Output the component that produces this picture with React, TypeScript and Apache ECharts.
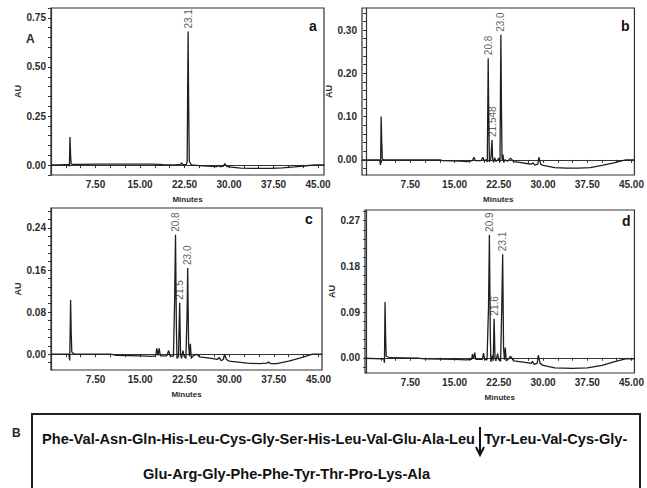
import React, { useEffect, useRef } from "react";
import * as echarts from "echarts";

// Chromatogram traces: [minutes, AU]
const traceA: number[][] = [
  [0, 0.002], [1, 0.002], [2.5, 0.003], [3.0, 0.003], [3.1, -0.006], [3.2, 0.143], [3.3, 0.05], [3.4, 0.006], [3.6, 0.004],
  [5, 0.004], [8, 0.005], [12, 0.005], [15, 0.005], [17, 0.005], [19, 0.003], [21, 0.002], [21.8, 0.004], [22.0, 0.011],
  [22.2, 0.003], [22.8, 0.004], [22.95, 0.02], [23.03, 0.4], [23.1, 0.68], [23.18, 0.35], [23.3, 0.02], [23.5, 0.008],
  [23.7, 0.002], [25, -0.002], [27, -0.006], [28.0, -0.007], [28.2, -0.001], [28.4, -0.007], [29.0, -0.006], [29.3, 0.008],
  [29.6, -0.006], [30, -0.009], [32, -0.015], [34, -0.016], [37, -0.016], [39, -0.014], [41, -0.009], [43, -0.003],
  [44.5, 0.002], [46, 0.002],
];
const traceB: number[][] = [
  [-0.7, 0], [1, 0], [2.3, 0], [2.45, -0.012], [2.55, 0.1], [2.65, 0.04], [2.75, 0.002], [3, 0], [8, 0], [12.5, 0],
  [13, -0.002], [16, -0.003], [17, -0.004], [18, -0.002], [18.3, 0.006], [18.5, -0.002], [19.5, -0.002], [19.8, 0.006],
  [20.0, -0.002], [20.4, 0.0], [20.55, -0.005], [20.7, 0.235], [20.8, 0.1], [20.9, -0.005], [21.15, 0.004], [21.35, 0.046],
  [21.45, 0.002], [21.6, -0.006], [21.8, 0.005], [22.0, -0.004], [22.3, 0.0], [22.5, 0.004], [22.7, -0.005], [22.85, 0.289],
  [22.95, 0.12], [23.05, 0.0], [23.2, 0.012], [23.35, -0.006], [23.5, 0.0], [24, -0.003], [24.5, 0.004], [25, -0.004],
  [26, -0.006], [27.5, -0.009], [28, -0.01], [28.3, -0.007], [28.6, -0.012], [29.1, -0.01], [29.3, 0.006], [29.6, -0.01],
  [30, -0.013], [32, -0.018], [34, -0.019], [36, -0.019], [38, -0.018], [40, -0.013], [42, -0.007], [44, 0.0], [45.5, 0.0],
];
const traceC: number[][] = [
  [0, 0], [3.0, 0], [3.15, -0.012], [3.3, 0.103], [3.4, 0.04], [3.5, 0.004], [3.7, 0.002], [4, 0], [10, 0], [11, -0.002],
  [15, -0.003], [17, -0.004], [17.6, -0.003], [17.8, 0.011], [18.0, -0.002], [18.2, 0.011], [18.4, -0.003], [19.5, -0.003],
  [19.8, 0.007], [20.0, -0.003], [20.6, -0.004], [20.8, 0.1], [20.95, 0.227], [21.1, 0.05], [21.2, -0.008], [21.45, -0.005],
  [21.65, 0.098], [21.8, 0.0], [21.95, -0.008], [22.2, 0.007], [22.4, -0.004], [22.7, -0.008], [22.9, 0.08], [23.0, 0.164],
  [23.15, 0.02], [23.3, -0.004], [23.45, 0.02], [23.6, -0.008], [23.8, -0.004], [24.5, 0.0], [25, -0.005], [27, -0.008],
  [28, -0.01], [28.3, -0.006], [28.6, -0.012], [29, -0.01], [29.2, 0.0], [29.5, -0.01], [30, -0.013], [33, -0.017],
  [35, -0.018], [36.3, -0.017], [36.6, -0.015], [37, -0.018], [38, -0.018], [40, -0.013], [42, -0.007], [44, 0.0], [45.6, 0.0],
];
const traceD: number[][] = [
  [-0.2, -0.001], [2.8, -0.002], [3.0, -0.002], [3.1, -0.01], [3.2, 0.11], [3.3, 0.04], [3.4, 0.003], [4, 0.0], [9, -0.001],
  [10, -0.002], [15, -0.003], [17, -0.004], [17.9, -0.003], [18.0, 0.007], [18.2, -0.002], [18.4, 0.01], [18.6, -0.003],
  [19.7, -0.003], [19.9, 0.009], [20.1, -0.003], [20.5, -0.004], [20.75, 0.1], [20.9, 0.242], [21.05, 0.05], [21.15, -0.008],
  [21.4, 0.004], [21.55, -0.006], [21.7, 0.077], [21.85, 0.0], [22.0, -0.006], [22.3, 0.008], [22.5, -0.004], [22.8, -0.007],
  [23.0, 0.1], [23.15, 0.204], [23.3, 0.02], [23.45, -0.004], [23.6, 0.02], [23.75, -0.006], [24, -0.004], [24.5, 0.003],
  [25, -0.006], [27, -0.009], [28, -0.011], [28.2, -0.007], [28.5, -0.013], [29, -0.011], [29.2, 0.005], [29.5, -0.011],
  [30, -0.015], [32, -0.02], [35, -0.021], [37.5, -0.02], [40, -0.015], [42, -0.008], [44, -0.002], [45.5, -0.002],
];

// Peak annotations: [minutes, AU at apex, label]
const peaksA: (number | string)[][] = [[23.1, 0.68, "23.1"]];
const peaksB: (number | string)[][] = [[20.7, 0.235, "20.8"], [21.35, 0.046, "21.548"], [22.85, 0.289, "23.0"]];
const peaksC: (number | string)[][] = [[20.95, 0.227, "20.8"], [21.65, 0.098, "21.5"], [23.0, 0.164, "23.0"]];
const peaksD: (number | string)[][] = [[20.9, 0.242, "20.9"], [21.7, 0.077, "21.6"], [23.15, 0.204, "23.1"]];

// Axis tick values
const xLabelTicks = [7.5, 15, 22.5, 30, 37.5, 45];
const xMinorTicks = [2.5, 5, 7.5, 10, 12.5, 15, 17.5, 20, 22.5, 25, 27.5, 30, 32.5, 35, 37.5, 40, 42.5, 45];
const yLabelsA = [0, 0.25, 0.5, 0.75];
const yTicksA = [-0.05, 0, 0.05, 0.1, 0.15, 0.2, 0.25, 0.3, 0.35, 0.4, 0.45, 0.5, 0.55, 0.6, 0.65, 0.7, 0.75, 0.8];
const yLabelsB = [0, 0.1, 0.2, 0.3];
const yTicksB = [-0.02, 0, 0.02, 0.04, 0.06, 0.08, 0.1, 0.12, 0.14, 0.16, 0.18, 0.2, 0.22, 0.24, 0.26, 0.28, 0.3, 0.32, 0.34];
const yLabelsC = [0, 0.08, 0.16, 0.24];
const yTicksC = [-0.016, 0, 0.016, 0.032, 0.048, 0.064, 0.08, 0.096, 0.112, 0.128, 0.144, 0.16, 0.176, 0.192, 0.208, 0.224, 0.24, 0.256, 0.272];
const yLabelsD = [0, 0.09, 0.18, 0.27];
const yTicksD = [-0.018, 0, 0.018, 0.036, 0.054, 0.072, 0.09, 0.108, 0.126, 0.144, 0.162, 0.18, 0.198, 0.216, 0.234, 0.252, 0.27, 0.288];

const panelLetters = ["a", "b", "c", "d"];
const seqLine1Left = "Phe-Val-Asn-Gln-His-Leu-Cys-Gly-Ser-His-Leu-Val-Glu-Ala-Leu";
const seqLine1Right = "Tyr-Leu-Val-Cys-Gly-";
const seqLine2 = "Glu-Arg-Gly-Phe-Phe-Tyr-Thr-Pro-Lys-Ala";

const FONT = "Liberation Sans, Arial, sans-serif";
const INK = "#2b2b2b";

export default function App() {
  const ref = useRef<HTMLDivElement>(null);
  useEffect(() => {
    if (!ref.current) return;
    const chart = echarts.init(ref.current, null, { renderer: "svg" });

    const grids = [
      { left: 51, top: 8, width: 273, height: 167 },
      { left: 362, top: 8, width: 274, height: 167 },
      { left: 51, top: 208, width: 271, height: 162 },
      { left: 365, top: 210, width: 271, height: 163 },
    ];
    const xRanges = [[0, 46], [-0.7, 45.5], [0, 45.6], [-0.2, 45.5]];
    const yRanges = [[-0.05, 0.8], [-0.035, 0.351], [-0.03, 0.278], [-0.03, 0.291]];
    const yLabels = [yLabelsA, yLabelsB, yLabelsC, yLabelsD];
    const yTicks = [yTicksA, yTicksB, yTicksC, yTicksD];
    const traces = [traceA, traceB, traceC, traceD];
    const peaks = [peaksA, peaksB, peaksC, peaksD];

    const axisLine = { show: true, lineStyle: { color: "#333", width: 1.2 } };
    const seqFont = `bold 14.6px ${FONT}`;

    const option: any = {
      animation: false,
      backgroundColor: "#fff",
      grid: grids.map((g) => ({ ...g, show: true, borderColor: "#333", borderWidth: 1.2, backgroundColor: "transparent" })),
      xAxis: grids.map((_, i) => ({
        type: "value",
        gridIndex: i,
        min: xRanges[i][0],
        max: xRanges[i][1],
        name: "Minutes",
        nameLocation: "middle",
        nameGap: 20,
        nameTextStyle: { fontFamily: FONT, fontWeight: "bold", fontSize: 8, color: INK },
        axisLine,
        axisTick: { show: true, length: 3, customValues: xMinorTicks, lineStyle: { color: "#333" } },
        axisLabel: {
          customValues: xLabelTicks,
          formatter: (v: number) => v.toFixed(2),
          fontFamily: FONT,
          fontWeight: "bold",
          fontSize: 10,
          color: INK,
          margin: 4,
        },
        splitLine: { show: false },
      })),
      yAxis: grids.map((_, i) => ({
        type: "value",
        gridIndex: i,
        min: yRanges[i][0],
        max: yRanges[i][1],
        name: "AU",
        nameLocation: "middle",
        nameGap: 22,
        nameRotate: 90,
        nameTextStyle: { fontFamily: FONT, fontWeight: "bold", fontSize: 9, color: INK },
        axisLine,
        axisTick: { show: true, length: 3, customValues: yTicks[i], lineStyle: { color: "#333" } },
        axisLabel: {
          customValues: yLabels[i],
          formatter: (v: number) => v.toFixed(2),
          fontFamily: FONT,
          fontWeight: "bold",
          fontSize: 10,
          color: INK,
          margin: 5,
        },
        splitLine: { show: false },
      })),
      series: [
        ...traces.map((t, i) => ({
          type: "line",
          xAxisIndex: i,
          yAxisIndex: i,
          data: t,
          showSymbol: false,
          symbol: "none",
          lineStyle: { color: "#1e1e1e", width: 1.3 },
          silent: true,
        })),
        ...peaks.map((p, i) => ({
          type: "scatter",
          xAxisIndex: i,
          yAxisIndex: i,
          data: p.map((d) => ({ value: [d[0], d[1], d[2]] })),
          symbolSize: 0,
          silent: true,
          label: {
            show: true,
            position: "top",
            distance: 3,
            rotate: 90,
            align: "left",
            verticalAlign: "middle",
            formatter: (prm: any) => prm.value[2],
            fontFamily: FONT,
            fontSize: 10,
            color: "#333",
          },
        })),
      ],
      graphic: [
        { type: "text", left: 26, top: 33, style: { text: "A", font: `bold 12px ${FONT}`, fill: INK } },
        ...panelLetters.map((l, i) => ({
          type: "text",
          x: [309, 621, 305, 622][i],
          y: [19, 19, 212, 214][i],
          style: { text: l, font: `bold 14px ${FONT}`, fill: "#111" },
        })),
        {
          type: "rect",
          shape: { x: 32, y: 414, width: 608, height: 110 },
          style: { fill: "none", stroke: "#222", lineWidth: 2 },
        },
        { type: "text", x: 12, y: 427, style: { text: "B", font: `bold 12px ${FONT}`, fill: INK } },
        {
          type: "text",
          x: 475,
          y: 439,
          style: { text: seqLine1Left, font: seqFont, fill: "#111", align: "right", verticalAlign: "middle" },
        },
        {
          type: "text",
          x: 484,
          y: 439,
          style: { text: seqLine1Right, font: seqFont, fill: "#111", align: "left", verticalAlign: "middle" },
        },
        {
          type: "text",
          x: 143,
          y: 474,
          style: { text: seqLine2, font: seqFont, fill: "#111", align: "left", verticalAlign: "middle" },
        },
        { type: "line", shape: { x1: 480, y1: 427, x2: 480, y2: 455 }, style: { stroke: "#111", lineWidth: 2 } },
        {
          type: "polyline",
          shape: { points: [[476, 447], [480, 455], [484, 447]] },
          style: { stroke: "#111", lineWidth: 2, fill: "none" },
        },
      ],
    };
    chart.setOption(option);
    return () => chart.dispose();
  }, []);
  return <div ref={ref} style={{ position: "fixed", left: 0, top: 0, width: 647, height: 488 }} />;
}
